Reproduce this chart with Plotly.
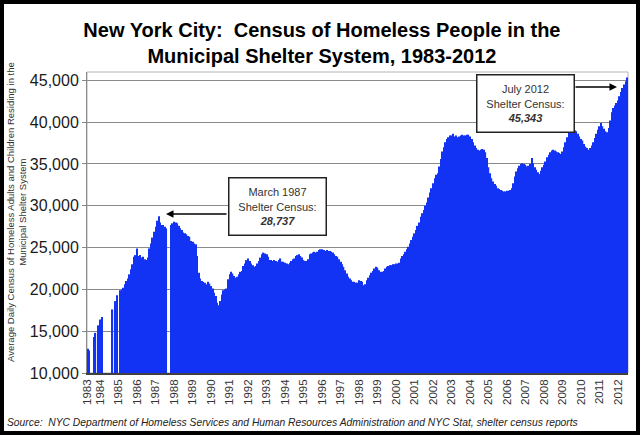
import pandas as pd
import plotly.graph_objects as go

# one slot per month, May 1983 .. July 2012 (None = month not reported)
months = pd.date_range("1983-05-01", "2012-07-01", freq="MS")

census = [
    12900, 12700, None, None, 14300, 14800, None, 15700,                          # 1983 (May-Dec)
    16400, 16700, None, None, None, None, None, None, 17600, None, 18600, 19300,  # 1984
    None, 19900, 20000, 20200, 20600, 21000, 21300, 21800, 22400, 23000, 23900, 24100,  # 1985
    24900, 24000, 24100, 23800, 23900, 23600, 23500, 23800, 24900, 25500, 26200, 26900,  # 1986
    27500, 28200, 28737, 28000, 27700, 27700, 27500, 27300, None, None, 27700, 27900,    # 1987
    28100, 28000, 27900, 27600, 27300, 27100, 26800, 26700, 26600, 26400, 26300, 25800,  # 1988
    25700, 25500, 25400, 24000, 22000, 21300, 21000, 20900, 20800, 20600, 20900, 20700,  # 1989
    20400, 20100, 19600, 19200, 18400, 18100, 18600, 19400, 19900, 20000, 20100, 21200,  # 1990
    21800, 22100, 21900, 21600, 21400, 21500, 21800, 22100, 22200, 22800, 23100, 23500,  # 1991
    23700, 23400, 23100, 22900, 22700, 22800, 23100, 23400, 23800, 24200, 24400, 24300,  # 1992
    24200, 23900, 23500, 23500, 23400, 23500, 23400, 23300, 23500, 23700, 23300, 23300,  # 1993
    23200, 23100, 23000, 23200, 23400, 23600, 23700, 24000, 24100, 24200, 24000, 23800,  # 1994
    23500, 23400, 23400, 23600, 24200, 24300, 24400, 24500, 24400, 24500, 24700, 24800,  # 1995
    24800, 24700, 24600, 24700, 24600, 24600, 24500, 24400, 24200, 24000, 23900, 23600,  # 1996
    23300, 23000, 22700, 22300, 21900, 21500, 21300, 21100, 20900, 20900, 20800, 20800,  # 1997
    21100, 21000, 20900, 20500, 20600, 21100, 21400, 21700, 22000, 22200, 22500, 22700,  # 1998
    22600, 22300, 22100, 22100, 22200, 22500, 22700, 22800, 22900, 22900, 23000, 23000,  # 1999
    23100, 23100, 23200, 23700, 24000, 24200, 24500, 24800, 25100, 25500, 25900, 26300,  # 2000
    26700, 27100, 27600, 28000, 28700, 29100, 29500, 30000, 30400, 31000, 31600, 32100,  # 2001
    32700, 33300, 33700, 33900, 34700, 35600, 36500, 37000, 37600, 38000, 38200, 38400,  # 2002
    38400, 38600, 38300, 38400, 38200, 38300, 38400, 38500, 38400, 38400, 38500, 38500,  # 2003
    38300, 38000, 37600, 37200, 36900, 36700, 36600, 36700, 36800, 36700, 36400, 35700,  # 2004
    34600, 33900, 33300, 32900, 32600, 32400, 32100, 32000, 31900, 31800, 31700, 31700,  # 2005
    31800, 31800, 31900, 32100, 32700, 33500, 34100, 34500, 34800, 35000, 35100, 35000,  # 2006
    34900, 34700, 34800, 35000, 35700, 35100, 34600, 34300, 34000, 33800, 34200, 34600,  # 2007
    34900, 35300, 35800, 36100, 36400, 36600, 36700, 36600, 36500, 36400, 36300, 36200,  # 2008
    36500, 37000, 37600, 38200, 38800, 39100, 39200, 39200, 39000, 38900, 38600, 38300,  # 2009
    38000, 37800, 37400, 37100, 36900, 36700, 36900, 37200, 37600, 38100, 38600, 39100,  # 2010
    39500, 39900, 39500, 39200, 38900, 38800, 39300, 40200, 41200, 41700, 42000, 42300,  # 2011
    42600, 43100, 43600, 44100, 44500, 44900, 45343,                                     # 2012 (Jan-Jul)
]

tick_years = list(range(1983, 2013))
tick_dates = ["1983-05-01"] + [f"{y}-01-01" for y in tick_years[1:]]
y_ticks = [10000, 15000, 20000, 25000, 30000, 35000, 40000, 45000]

title_text = ("<b>New York City:  Census of Homeless People in the<br>"
              "Municipal Shelter System, 1983-2012</b>")
y_title = ("Average Daily Census of Homeless Adults and Children Residing in the<br>"
           "Municipal Shelter System")
source_text = ("Source:  NYC Department of Homeless Services and Human Resources "
               "Administration and NYC Stat, shelter census reports")
note_1987 = "March 1987<br>Shelter Census:<br><b><i>28,737</i></b>"
note_2012 = "July 2012<br>Shelter Census:<br><b><i>45,343</i></b>"

FONT = "Arial, Liberation Sans, sans-serif"

# plot area in page pixels, used to place the free-standing notes
L, R, T, B = 87, 628, 72, 373


def px(x):
    return (x - L) / (R - L)


def py(y):
    return (B - y) / (B - T)


fig = go.Figure(go.Bar(
    x=months, y=census,
    marker=dict(color="#1232f4", line=dict(width=0)),
))

fig.update_layout(
    width=640, height=435, autosize=False,
    margin=dict(l=L, r=640 - R, t=T, b=435 - B),
    paper_bgcolor="white", plot_bgcolor="white",
    bargap=0.1, showlegend=False,
    font=dict(family=FONT, color="#222"),
    title=dict(text=title_text, x=0.503, xref="container", xanchor="center",
               y=1 - 37 / 435, yref="container", yanchor="middle",
               font=dict(size=20, color="black")),
)

fig.update_xaxes(
    type="date", range=["1983-04-16", "2012-07-16"],
    tickmode="array", tickvals=tick_dates, ticktext=[str(y) for y in tick_years],
    tickangle=-90, tickfont=dict(size=11.5, color="#333"),
    showgrid=False, showline=True, linecolor="#404040", linewidth=1.5,
    ticks="",
)
fig.update_yaxes(
    range=[10000, 46000], tickvals=y_ticks, tickformat=",",
    tickfont=dict(size=16, color="#1a1a1a"),
    showgrid=True, gridcolor="#8a8a8a", gridwidth=1, zeroline=False,
    showline=True, linecolor="#8a8a8a", linewidth=1,
    ticks="outside", ticklen=4, tickcolor="#8a8a8a",
)

# light frame round the plot area and the heavy black frame round the chart
fig.add_shape(type="rect", xref="paper", yref="paper", x0=0, x1=1, y0=0, y1=1,
              line=dict(color="#b4b4b4", width=1), layer="below")
fig.add_shape(type="rect", xref="paper", yref="paper",
              x0=px(2), x1=px(638), y0=py(433), y1=py(2),
              line=dict(color="black", width=4))

ann = [
    dict(text=y_title, x=px(16), y=py(212), textangle=-90,
         font=dict(size=9.5, color="#333")),
    dict(text=f"<i>{source_text}</i>", x=px(5), y=py(422), xanchor="left",
         font=dict(size=10.3, color="#222")),
    dict(text=note_1987, x=px(277), y=py(206), width=92, height=52,
         bordercolor="#222", borderwidth=1.5, borderpad=2, bgcolor="white",
         font=dict(size=11, color="#333")),
    dict(text=note_2012, x=px(525), y=py(103), width=92, height=52,
         bordercolor="#222", borderwidth=1.5, borderpad=2, bgcolor="white",
         font=dict(size=11, color="#333")),
    dict(text="", x=px(166), y=py(214), ax=62, ay=0, showarrow=True,
         arrowhead=2, arrowsize=1, arrowwidth=1.5, arrowcolor="black"),
    dict(text="", x=px(617), y=py(87), ax=-43, ay=0, showarrow=True,
         arrowhead=2, arrowsize=1, arrowwidth=1.5, arrowcolor="black"),
]
for a in ann:
    a.setdefault("showarrow", False)
    a.setdefault("xanchor", "center")
    a.setdefault("yanchor", "middle")
    fig.add_annotation(xref="paper", yref="paper", **a)

# the page body has an 8px default margin; drop it so the figure fills the window
fig.write_html("out.html", config={"displayModeBar": False},
               post_script="document.body.style.margin='0px';")
